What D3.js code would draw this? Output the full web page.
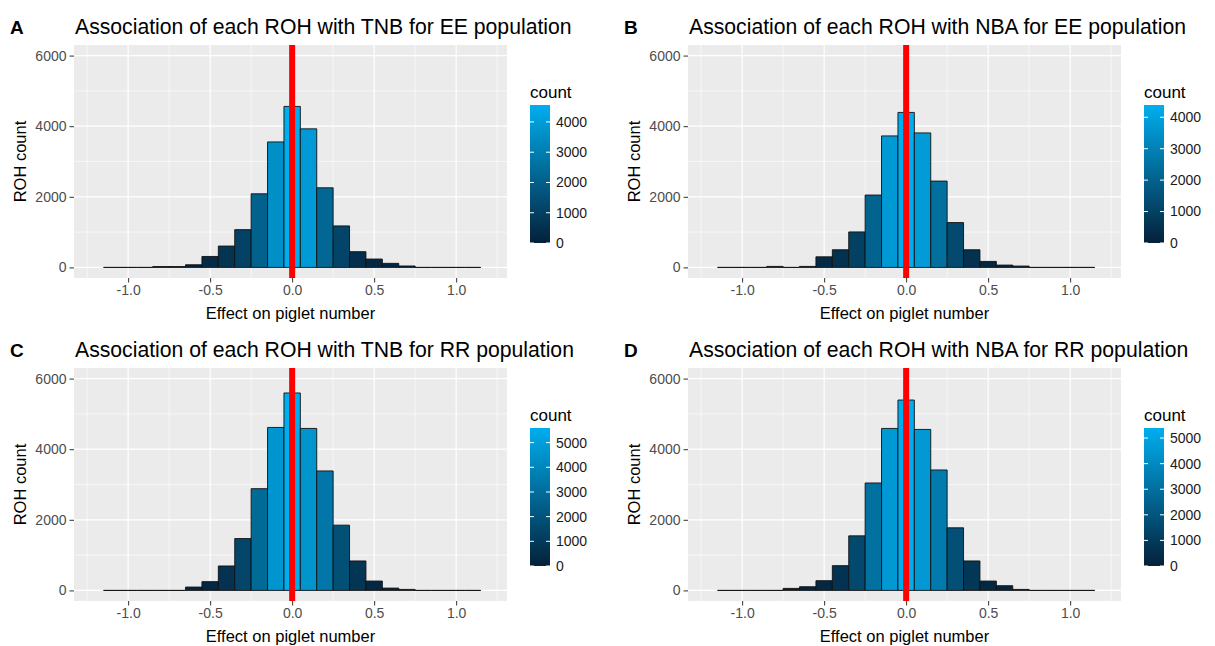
<!DOCTYPE html>
<html>
<head>
<meta charset="utf-8">
<script src="https://cdn.jsdelivr.net/npm/d3@7/dist/d3.min.js"></script>
<style>
    body { margin: 0; background: #fff; }
    text { font-family: "Liberation Sans", Arial, sans-serif; }
</style>
</head>
<body>
<svg width="1215" height="646"></svg>
<script>
// bin centres of the histograms (binwidth 0.1)
var binCenters = [-1.1, -1.0, -0.9, -0.8, -0.7, -0.6, -0.5, -0.4, -0.3, -0.2, -0.1, 0.0,
    0.1, 0.2, 0.3, 0.4, 0.5, 0.6, 0.7, 0.8, 0.9, 1.0, 1.1];

// ROH counts per bin
var countsTnbEE = [0, 0, 0, 25, 25, 75, 310, 605, 1070, 2085, 3555, 4560,
    3925, 2255, 1175, 445, 237, 115, 40, 0, 0, 0, 0];
var countsNbaEE = [0, 0, 0, 28, 0, 28, 300, 500, 1005, 2050, 3725, 4390,
    3810, 2445, 1270, 500, 170, 66, 38, 0, 0, 0, 0];
var countsTnbRR = [0, 0, 0, 0, 0, 95, 248, 692, 1469, 2882, 4616, 5593,
    4588, 3384, 1848, 834, 265, 66, 28, 0, 0, 0, 0];
var countsNbaRR = [0, 0, 0, 0, 57, 104, 275, 701, 1545, 3043, 4588, 5393,
    4560, 3412, 1773, 834, 265, 133, 28, 0, 0, 0, 0];

var panelLetters = ['A', 'B', 'C', 'D'];
var panelTitles = [
    'Association of each ROH with TNB for EE population',
    'Association of each ROH with NBA for EE population',
    'Association of each ROH with TNB for RR population',
    'Association of each ROH with NBA for RR population'
];

var xTicks = [-1.0, -0.5, 0.0, 0.5, 1.0];
var xMinor = [-1.25, -0.75, -0.25, 0.25, 0.75, 1.25];
var yTicks = [0, 2000, 4000, 6000];
var yMinor = [1000, 3000, 5000];
var legendTicksEE = [0, 1000, 2000, 3000, 4000];
var legendTicksRR = [0, 1000, 2000, 3000, 4000, 5000];

var panels = [
    {letter: panelLetters[0], title: panelTitles[0], counts: countsTnbEE, legendTicks: legendTicksEE, x0: 74, y0: 45},
    {letter: panelLetters[1], title: panelTitles[1], counts: countsNbaEE, legendTicks: legendTicksEE, x0: 688, y0: 45},
    {letter: panelLetters[2], title: panelTitles[2], counts: countsTnbRR, legendTicks: legendTicksRR, x0: 74, y0: 368},
    {letter: panelLetters[3], title: panelTitles[3], counts: countsNbaRR, legendTicks: legendTicksRR, x0: 688, y0: 368}
];

var svg = d3.select('svg');
var pw = 433;
var ph = 233;
var lowColor = '#04213A';
var highColor = '#00AEEF';

panels.forEach(function (p, pi) {
    var g = svg.append('g');

    var x = d3.scaleLinear()
        .domain([-1.33, 1.31])
        .range([p.x0, p.x0 + pw])
    ;
    var y = d3.scaleLinear()
        .domain([-300, 6300])
        .range([p.y0 + ph, p.y0])
    ;
    var maxCount = d3.max(p.counts);
    var color = d3.scaleLinear()
        .domain([0, maxCount])
        .range([lowColor, highColor])
        .interpolate(d3.interpolateRgb)
    ;

    // panel background and grid
    g.append('rect')
        .attr('x', p.x0)
        .attr('y', p.y0)
        .attr('width', pw)
        .attr('height', ph)
        .attr('fill', '#EBEBEB')
    ;
    g.selectAll('.xminor')
        .data(xMinor)
        .enter()
        .append('line')
            .attr('x1', function (d) { return x(d); })
            .attr('x2', function (d) { return x(d); })
            .attr('y1', p.y0)
            .attr('y2', p.y0 + ph)
            .attr('stroke', '#fff')
            .attr('stroke-width', 0.6)
    ;
    g.selectAll('.yminor')
        .data(yMinor)
        .enter()
        .append('line')
            .attr('x1', p.x0)
            .attr('x2', p.x0 + pw)
            .attr('y1', function (d) { return y(d); })
            .attr('y2', function (d) { return y(d); })
            .attr('stroke', '#fff')
            .attr('stroke-width', 0.6)
    ;
    g.selectAll('.xmajor')
        .data(xTicks)
        .enter()
        .append('line')
            .attr('x1', function (d) { return x(d); })
            .attr('x2', function (d) { return x(d); })
            .attr('y1', p.y0)
            .attr('y2', p.y0 + ph)
            .attr('stroke', '#fff')
            .attr('stroke-width', 1.2)
    ;
    g.selectAll('.ymajor')
        .data(yTicks)
        .enter()
        .append('line')
            .attr('x1', p.x0)
            .attr('x2', p.x0 + pw)
            .attr('y1', function (d) { return y(d); })
            .attr('y2', function (d) { return y(d); })
            .attr('stroke', '#fff')
            .attr('stroke-width', 1.2)
    ;

    // histogram bars (paths so that empty bins still show their outline)
    g.selectAll('.bar')
        .data(binCenters)
        .enter()
        .append('path')
            .attr('d', function (c, i) {
                var xa = x(c - 0.05);
                var xb = x(c + 0.05);
                return 'M' + xa + ',' + y(0) + 'H' + xb + 'V' + y(p.counts[i]) + 'H' + xa + 'Z';
            })
            .attr('fill', function (c, i) { return color(p.counts[i]); })
            .attr('stroke', '#111')
            .attr('stroke-width', 0.9)
    ;

    // red reference line at zero
    g.append('line')
        .attr('x1', x(0))
        .attr('x2', x(0))
        .attr('y1', p.y0)
        .attr('y2', p.y0 + ph)
        .attr('stroke', '#FF0000')
        .attr('stroke-width', 6)
    ;

    // axes
    var ax = g.append('g')
        .attr('transform', 'translate(0,' + (p.y0 + ph) + ')')
        .call(d3.axisBottom(x).tickValues(xTicks).tickSize(4.5).tickPadding(3)
            .tickFormat(function (d) { return d3.format('.1f')(d).replace('\u2212', '-'); }))
    ;
    var ay = g.append('g')
        .attr('transform', 'translate(' + p.x0 + ',0)')
        .call(d3.axisLeft(y).tickValues(yTicks).tickSize(4.5).tickPadding(3)
            .tickFormat(d3.format('d')))
    ;
    [ax, ay].forEach(function (a) {
        a.select('.domain').remove();
        a.selectAll('.tick line').attr('stroke', '#333');
        a.selectAll('.tick text')
            .attr('fill', '#4D4D4D')
            .style('font-size', '14px')
            .style('font-family', '"Liberation Sans", Arial, sans-serif')
        ;
    });

    g.append('text')
        .attr('x', p.x0 + pw / 2)
        .attr('y', p.y0 + ph + 41)
        .attr('text-anchor', 'middle')
        .style('font-size', '16.5px')
        .text('Effect on piglet number')
    ;
    g.append('text')
        .attr('transform', 'translate(' + (p.x0 - 48) + ',' + (p.y0 + ph / 2) + ') rotate(-90)')
        .attr('text-anchor', 'middle')
        .style('font-size', '16.5px')
        .text('ROH count')
    ;

    // title and panel letter
    g.append('text')
        .attr('x', p.x0 + 1)
        .attr('y', p.y0 - 11)
        .style('font-size', '21.2px')
        .text(p.title)
    ;
    g.append('text')
        .attr('x', p.x0 - 64)
        .attr('y', p.y0 - 11)
        .style('font-size', '19px')
        .style('font-weight', 'bold')
        .text(p.letter)
    ;

    // colour bar legend
    var barX = p.x0 + 456;
    var barW = 20;
    var barH = 138;
    var barBottom = p.y0 + 198;
    var ly = d3.scaleLinear()
        .domain([0, maxCount])
        .range([barBottom, barBottom - barH])
    ;
    var gradId = 'grad' + pi;
    var grad = svg.append('defs')
        .append('linearGradient')
            .attr('id', gradId)
            .attr('x1', 0).attr('y1', 1)
            .attr('x2', 0).attr('y2', 0)
    ;
    grad.selectAll('stop')
        .data([0, 1])
        .enter()
        .append('stop')
            .attr('offset', function (t) { return t; })
            .attr('stop-color', function (t) { return color(t * maxCount); })
    ;
    g.append('rect')
        .attr('x', barX)
        .attr('y', barBottom - barH)
        .attr('width', barW)
        .attr('height', barH)
        .attr('fill', 'url(#' + gradId + ')')
    ;
    g.selectAll('.ltickl')
        .data(p.legendTicks)
        .enter()
        .append('line')
            .attr('x1', barX)
            .attr('x2', barX + 4)
            .attr('y1', function (d) { return ly(d); })
            .attr('y2', function (d) { return ly(d); })
            .attr('stroke', '#fff')
            .attr('stroke-width', 1)
    ;
    g.selectAll('.ltickr')
        .data(p.legendTicks)
        .enter()
        .append('line')
            .attr('x1', barX + barW - 4)
            .attr('x2', barX + barW)
            .attr('y1', function (d) { return ly(d); })
            .attr('y2', function (d) { return ly(d); })
            .attr('stroke', '#fff')
            .attr('stroke-width', 1)
    ;
    g.selectAll('.llabel')
        .data(p.legendTicks)
        .enter()
        .append('text')
            .attr('x', barX + barW + 6)
            .attr('y', function (d) { return ly(d); })
            .attr('dy', '0.35em')
            .style('font-size', '14px')
            .attr('fill', '#1a1a1a')
            .text(function (d) { return d; })
    ;
    g.append('text')
        .attr('x', barX)
        .attr('y', barBottom - barH - 7)
        .style('font-size', '17px')
        .text('count')
    ;
});
</script>
</body>
</html>
